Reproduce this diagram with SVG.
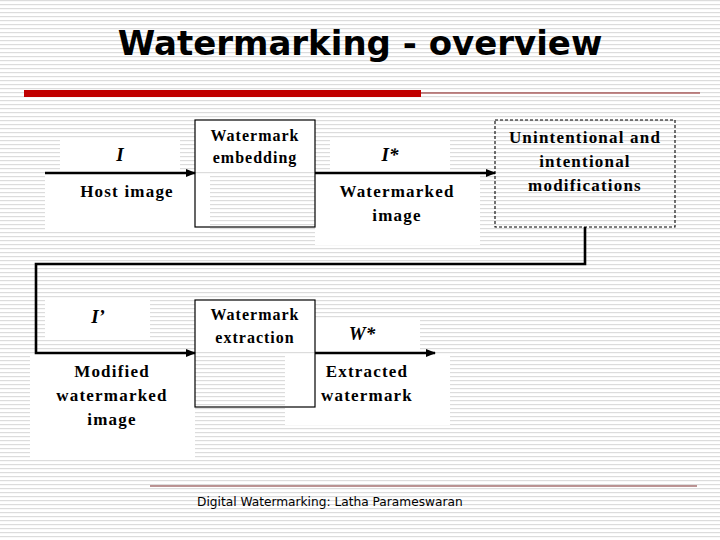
<svg xmlns="http://www.w3.org/2000/svg" width="720" height="540" viewBox="0 0 720 540">
  <defs>
    <pattern id="stripes" patternUnits="userSpaceOnUse" width="8" height="4">
      <rect x="0" y="0" width="8" height="4" fill="#ffffff"/>
      <rect x="0" y="0" width="8" height="1.2" fill="#dcdcdc"/>
    </pattern>
    <marker id="arrow" viewBox="0 0 10 10" refX="9" refY="5" markerWidth="4" markerHeight="4" orient="auto" markerUnits="strokeWidth">
      <path d="M0,1 L10,5 L0,9 Z" fill="#000"/>
    </marker>
    <style>
      .title { font-family: "DejaVu Sans", "Liberation Sans", sans-serif; font-weight: bold; font-size: 34px; fill: #000; }
      .lbl { font-family: "Liberation Serif", "Times New Roman", serif; font-weight: bold; font-size: 17px; letter-spacing: 1.2px; fill: #000; text-anchor: middle; }
      .box { font-family: "Liberation Serif", "Times New Roman", serif; font-weight: bold; font-size: 16px; letter-spacing: 1px; fill: #000; text-anchor: middle; }
      .sym { font-family: "Liberation Serif", "Times New Roman", serif; font-weight: bold; font-style: italic; font-size: 19px; fill: #000; text-anchor: middle; }
      .frame { fill: #ffffff; stroke: none; }
      .node { fill: none; stroke: #000; stroke-width: 1.2; }
      .dashed { fill: none; stroke: #000; stroke-width: 1.1; stroke-dasharray: 3 2; }
      .conn { fill: none; stroke: #000; stroke-width: 2.6; }
      .foot { font-family: "DejaVu Sans", "Liberation Sans", sans-serif; font-size: 12.2px; fill: #000; }
    </style>
  </defs>

  <!-- background -->
  <rect x="0" y="0" width="720" height="540" fill="url(#stripes)"/>

  <!-- title -->
  <g id="title">
    <text class="title" x="360" y="55" text-anchor="middle">Watermarking - overview</text>
    <rect x="24" y="90" width="397" height="7" fill="#c00000"/>
    <line x1="421" y1="93" x2="700" y2="93" stroke="#8b1a1a" stroke-width="1.2"/>
  </g>

  <!-- text frames (white backgrounds) -->
  <g id="frames">
    <rect class="frame" x="60" y="140" width="120" height="30"/>
    <rect class="frame" x="45" y="174" width="165" height="56"/>
    <rect class="frame" x="195" y="120" width="120" height="52"/>
    <rect class="frame" x="330" y="140" width="120" height="30"/>
    <rect class="frame" x="315" y="174" width="165" height="71"/>
    <rect class="frame" x="45" y="298" width="105" height="42"/>
    <rect class="frame" x="30" y="355" width="165" height="105"/>
    <rect class="frame" x="195" y="300" width="120" height="52"/>
    <rect class="frame" x="315" y="320" width="105" height="32"/>
    <rect class="frame" x="285" y="354" width="165" height="71"/>
  </g>

  <!-- connectors -->
  <g id="connectors">
    <line class="conn" x1="45" y1="173" x2="195" y2="173" marker-end="url(#arrow)"/>
    <line class="conn" x1="315" y1="173" x2="495" y2="173" marker-end="url(#arrow)"/>
    <path class="conn" d="M585,227 L585,264 L36,264 L36,353 L195,353" marker-end="url(#arrow)"/>
    <line class="conn" x1="315" y1="353" x2="435" y2="353" marker-end="url(#arrow)"/>
  </g>

  <!-- nodes -->
  <g id="host-image">
    <text class="sym" x="120" y="161">I</text>
    <text class="lbl" x="127" y="197">Host image</text>
  </g>

  <g id="embedding">
    <rect class="node" x="195" y="120" width="120" height="107"/>
    <text class="box" x="255" y="141">Watermark</text>
    <text class="box" x="255" y="163">embedding</text>
  </g>

  <g id="watermarked-image">
    <text class="sym" x="390" y="161">I*</text>
    <text class="lbl" x="397" y="197">Watermarked</text>
    <text class="lbl" x="397" y="221">image</text>
  </g>

  <g id="modifications">
    <rect class="dashed" x="495" y="120" width="180" height="107"/>
    <text class="lbl" x="585" y="143">Unintentional and</text>
    <text class="lbl" x="585" y="167">intentional</text>
    <text class="lbl" x="585" y="191">modifications</text>
  </g>

  <g id="modified-image">
    <text class="sym" x="98" y="323">I’</text>
    <text class="lbl" x="112" y="377">Modified</text>
    <text class="lbl" x="112" y="401">watermarked</text>
    <text class="lbl" x="112" y="425">image</text>
  </g>

  <g id="extraction">
    <rect class="node" x="195" y="300" width="120" height="107"/>
    <text class="box" x="255" y="320">Watermark</text>
    <text class="box" x="255" y="343">extraction</text>
  </g>

  <g id="extracted-watermark">
    <text class="sym" x="362" y="340">W*</text>
    <text class="lbl" x="367" y="377">Extracted</text>
    <text class="lbl" x="367" y="401">watermark</text>
  </g>

  <!-- footer -->
  <g id="footer">
    <line x1="150" y1="486" x2="697" y2="486" stroke="#7a2a2a" stroke-width="1.2"/>
    <text class="foot" x="197" y="506">Digital Watermarking: Latha Parameswaran</text>
  </g>
</svg>
